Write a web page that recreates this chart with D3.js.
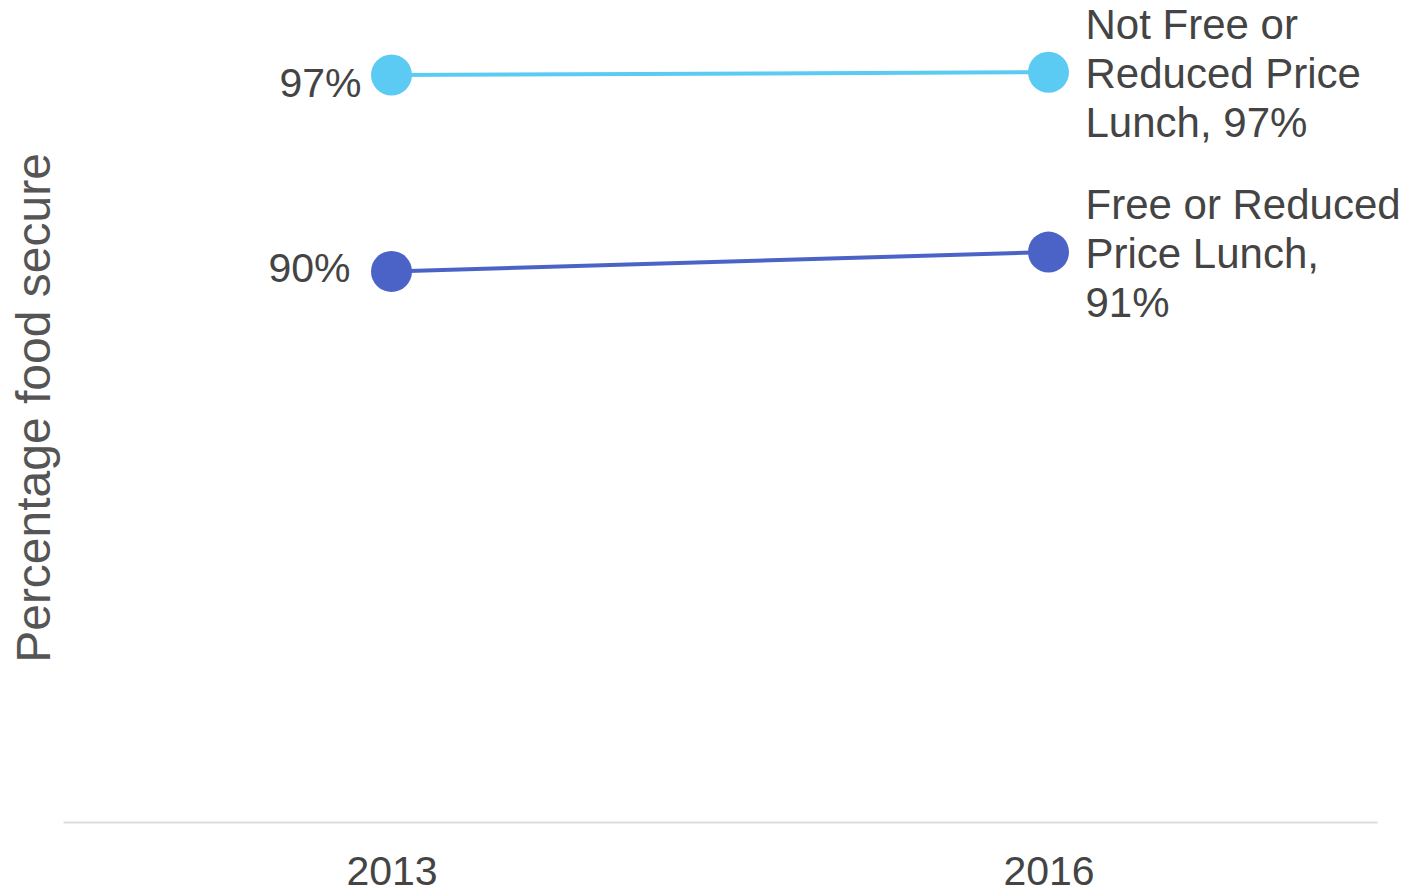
<!DOCTYPE html>
<html>
<head>
<meta charset="utf-8">
<script src="https://cdn.jsdelivr.net/npm/d3@7"></script>
<style>
  html, body { margin: 0; padding: 0; background: #fff; }
  svg { display: block; font-family: "Liberation Sans", Arial, sans-serif; }
</style>
</head>
<body>
<svg id="chart" width="1410" height="892"></svg>
<script>
// Survey years on the x axis
const years = [2013, 2016];

// Share of students who are food secure, by lunch eligibility (%)
const seriesNames = ["Not Free or Reduced Price Lunch", "Free or Reduced Price Lunch"];
const notFreeValues = [97.0, 97.1];
const freeValues = [89.9, 90.6];
const seriesColors = ["#5bcbf4", "#4b63c7"];

// Wrapped end-of-line labels
const endLabelLines = [
  ["Not Free or", "Reduced Price", "Lunch, "],
  ["Free or Reduced", "Price Lunch,", ""]
];

const axisTitle = "Percentage food secure";

const series = seriesNames.map((name, i) => ({
  name,
  values: [notFreeValues, freeValues][i],
  color: seriesColors[i],
  lines: endLabelLines[i]
}));

const svg = d3.select("#chart");
const fmt = d3.format(".0f");

const x = d3.scalePoint().domain(years).range([63, 1377]).padding(0.5);
const y = d3.scaleLinear().domain([70, 100]).range([822, -8]);

// Baseline + year labels
const xAxis = d3.axisBottom(x).tickSize(0).tickPadding(0);
const gx = svg.append("g").attr("transform", `translate(0,${y(70)})`).call(xAxis);
gx.select(".domain").attr("stroke", "#dcdcdc").attr("stroke-width", 2);
gx.selectAll(".tick text")
  .attr("y", 63)
  .attr("dy", 0)
  .attr("font-size", 41)
  .attr("fill", "#444")
  .attr("font-family", "Liberation Sans, Arial, sans-serif");

// Y axis title
svg.append("text")
  .attr("transform", `translate(50,408) rotate(-90)`)
  .attr("text-anchor", "middle")
  .attr("font-size", 48)
  .attr("fill", "#555")
  .text(axisTitle);

const line = d3.line().x((d, i) => x(years[i])).y(d => y(d));

const g = svg.append("g");

series.forEach(s => {
  g.append("path")
    .attr("d", line(s.values))
    .attr("fill", "none")
    .attr("stroke", s.color)
    .attr("stroke-width", 4);

  g.selectAll(null)
    .data(s.values)
    .join("circle")
    .attr("cx", (d, i) => x(years[i]))
    .attr("cy", d => y(d))
    .attr("r", 20.5)
    .attr("fill", s.color);
});

// Start-of-line value labels (nudged to avoid overlap)
const startNudge = [{ dx: -30, dy: 22 }, { dx: -41, dy: 11 }];
series.forEach((s, i) => {
  svg.append("text")
    .attr("x", x(years[0]) + startNudge[i].dx)
    .attr("y", y(s.values[0]) + startNudge[i].dy)
    .attr("text-anchor", "end")
    .attr("font-size", 41)
    .attr("fill", "#444")
    .text(fmt(s.values[0]) + "%");
});

// End-of-line series labels
series.forEach(s => {
  const last = s.values[s.values.length - 1];
  const lines = s.lines.slice();
  const valueText = fmt(last) + "%";
  if (lines[lines.length - 1] === "") lines[lines.length - 1] = valueText;
  else lines[lines.length - 1] += valueText;
  const t = svg.append("text")
    .attr("x", x(years[1]) + 37)
    .attr("y", y(last) + 16 - 49)
    .attr("font-size", 42)
    .attr("fill", "#444");
  t.selectAll("tspan")
    .data(lines)
    .join("tspan")
    .attr("x", x(years[1]) + 37)
    .attr("dy", (d, i) => i === 0 ? 0 : 49)
    .text(d => d);
});
</script>
</body>
</html>
